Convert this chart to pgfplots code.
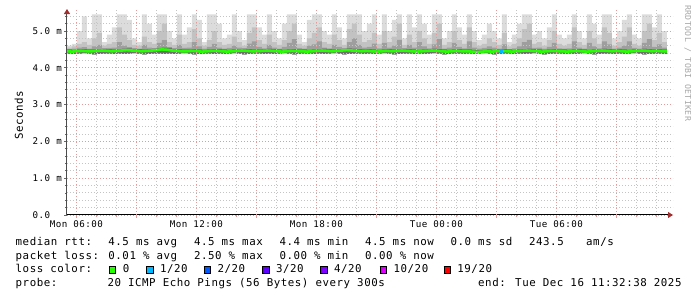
\documentclass[border=0pt]{standalone}
\usepackage{fontspec}
\usepackage{pgfplots}
\pgfplotsset{compat=1.18}
\usepackage{pgfplotstable}
\usetikzlibrary{arrows.meta}
\newfontfamily\mono[LetterSpace=5]{DejaVu Sans Mono}
\definecolor{gridc}{HTML}{C4C4C4}
\definecolor{mgridc}{HTML}{DE9C9C}
\definecolor{arrowred}{HTML}{A03030}
\definecolor{smA}{HTML}{DCDCDC}
\definecolor{smB}{HTML}{C2C2C2}
\definecolor{smC}{HTML}{9E9E9E}
\definecolor{smD}{HTML}{6E6E6E}
\definecolor{l0}{HTML}{26FF00}
\definecolor{l1}{HTML}{00B8FF}
\definecolor{l2}{HTML}{0059FF}
\definecolor{l3}{HTML}{5E00FF}
\definecolor{l4}{HTML}{7E00FF}
\definecolor{l10}{HTML}{DD00FF}
\definecolor{l19}{HTML}{FF0000}
\newcommand{\sw}[1]{{\setlength{\fboxsep}{0pt}\setlength{\fboxrule}{0.9pt}\fcolorbox{black}{#1}{\rule{0pt}{5.6pt}\rule{5.6pt}{0pt}}}}
\newcommand{\lf}{\mono\fontsize{10.8}{12}\selectfont}
\newcommand{\tf}{\mono\fontsize{9.2}{10}\selectfont}

\pgfplotstableread{
x lo dk md lt med
5.53 4.38 4.50 4.55 4.60 4.45
5.78 4.37 4.52 4.58 4.65 4.44
6.03 4.38 4.55 4.65 5.00 4.45
6.28 4.39 4.56 4.70 5.40 4.46
6.53 4.38 4.52 4.62 4.80 4.45
6.78 4.36 4.58 4.80 5.45 4.45
7.03 4.37 4.62 4.95 5.45 4.46
7.28 4.38 4.52 4.60 4.70 4.47
7.53 4.38 4.54 4.65 4.90 4.46
7.78 4.37 4.55 4.70 5.10 4.45
8.03 4.38 4.70 5.10 5.45 4.46
8.28 4.37 4.60 4.90 5.45 4.47
8.53 4.38 4.56 4.75 5.30 4.48
8.78 4.39 4.52 4.62 4.80 4.47
9.03 4.38 4.52 4.60 4.70 4.46
9.28 4.36 4.62 4.85 5.45 4.45
9.53 4.37 4.55 4.70 5.20 4.46
9.78 4.38 4.53 4.65 4.90 4.47
10.03 4.38 4.68 5.00 5.45 4.48
10.28 4.37 4.75 5.20 5.45 4.50
10.53 4.38 4.56 4.70 5.00 4.49
10.78 4.37 4.52 4.62 4.80 4.47
11.03 4.38 4.62 4.90 5.45 4.46
11.28 4.39 4.54 4.65 4.90 4.45
11.53 4.38 4.55 4.70 5.10 4.45
11.78 4.36 4.70 5.05 5.45 4.46
12.03 4.37 4.58 4.80 5.30 4.45
12.28 4.38 4.52 4.60 4.70 4.44
12.53 4.38 4.57 4.75 5.45 4.45
12.78 4.37 4.65 5.00 5.45 4.46
13.03 4.38 4.55 4.70 5.20 4.46
13.28 4.37 4.52 4.62 4.80 4.45
13.53 4.38 4.54 4.65 4.90 4.44
13.78 4.39 4.60 4.85 5.45 4.45
14.03 4.38 4.55 4.70 5.00 4.46
14.28 4.36 4.52 4.60 4.75 4.47
14.53 4.37 4.66 4.95 5.45 4.46
14.78 4.38 4.72 5.10 5.45 4.45
15.03 4.38 4.57 4.75 5.10 4.45
15.28 4.37 4.53 4.65 4.90 4.46
15.53 4.38 4.62 4.90 5.45 4.47
15.78 4.37 4.55 4.70 5.00 4.46
16.03 4.38 4.52 4.62 4.80 4.45
16.28 4.39 4.57 4.75 5.20 4.44
16.53 4.38 4.68 5.00 5.45 4.45
16.78 4.36 4.78 5.20 5.45 4.46
17.03 4.37 4.54 4.65 4.90 4.45
17.28 4.38 4.52 4.60 4.70 4.45
17.53 4.38 4.60 4.80 5.30 4.44
17.78 4.37 4.64 4.95 5.45 4.45
18.03 4.38 4.72 5.10 5.45 4.46
18.28 4.37 4.55 4.70 5.00 4.47
18.53 4.38 4.53 4.65 4.90 4.46
18.78 4.39 4.62 4.90 5.45 4.45
19.03 4.38 4.57 4.75 5.10 4.46
19.28 4.36 4.52 4.62 4.80 4.47
19.53 4.37 4.70 5.05 5.45 4.48
19.78 4.38 4.80 5.20 5.45 4.47
20.03 4.38 4.62 4.90 5.45 4.46
20.28 4.37 4.55 4.70 5.00 4.45
20.53 4.38 4.57 4.75 5.20 4.46
20.78 4.37 4.66 4.95 5.45 4.45
21.03 4.38 4.53 4.65 4.90 4.44
21.28 4.39 4.68 5.00 5.45 4.45
21.53 4.38 4.55 4.70 5.00 4.46
21.78 4.36 4.60 4.85 5.30 4.45
22.03 4.37 4.76 5.20 5.45 4.46
22.28 4.38 4.52 4.62 4.80 4.47
22.53 4.38 4.62 4.90 5.45 4.46
22.78 4.37 4.55 4.70 5.10 4.45
23.03 4.38 4.70 5.00 5.45 4.44
23.28 4.37 4.58 4.80 5.20 4.45
23.53 4.38 4.53 4.65 4.90 4.46
23.78 4.39 4.64 4.95 5.45 4.47
24.03 4.38 4.78 5.20 5.45 4.46
24.28 4.36 4.52 4.62 4.80 4.45
24.53 4.37 4.55 4.70 5.00 4.44
24.78 4.38 4.68 5.00 5.45 4.45
25.03 4.38 4.57 4.75 5.10 4.46
25.28 4.37 4.53 4.65 4.90 4.45
25.53 4.38 4.72 5.10 5.45 4.45
25.78 4.37 4.55 4.70 5.00 4.44
26.03 4.38 4.52 4.60 4.75 4.43
26.28 4.39 4.54 4.65 4.90 4.44
26.53 4.38 4.58 4.80 5.20 4.45
26.78 4.36 4.55 4.70 5.00 4.44
27.03 4.37 4.52 4.62 4.80 4.45
27.28 4.38 4.64 4.95 5.45 4.46
27.53 4.38 4.50 4.58 4.70 4.45
27.78 4.37 4.53 4.65 4.90 4.44
28.03 4.38 4.58 4.80 5.20 4.45
28.28 4.37 4.70 5.05 5.45 4.46
28.53 4.38 4.76 5.20 5.45 4.47
28.78 4.39 4.54 4.65 4.90 4.46
29.03 4.38 4.55 4.70 5.00 4.45
29.28 4.36 4.52 4.60 4.80 4.44
29.53 4.37 4.57 4.75 5.10 4.45
29.78 4.38 4.68 5.00 5.45 4.46
30.03 4.38 4.53 4.65 4.90 4.45
30.28 4.37 4.52 4.60 4.80 4.45
30.53 4.38 4.53 4.65 4.90 4.44
30.78 4.37 4.72 5.10 5.45 4.45
31.03 4.38 4.55 4.70 5.00 4.46
31.28 4.39 4.52 4.62 4.80 4.45
31.53 4.38 4.68 5.00 5.45 4.44
31.78 4.36 4.58 4.80 5.20 4.45
32.03 4.37 4.53 4.65 4.90 4.46
32.28 4.38 4.72 5.10 5.45 4.47
32.53 4.38 4.64 4.95 5.45 4.46
32.78 4.37 4.52 4.60 4.80 4.45
33.03 4.38 4.55 4.70 5.00 4.46
33.28 4.37 4.60 4.85 5.30 4.45
33.53 4.38 4.72 5.10 5.45 4.44
33.78 4.39 4.54 4.65 4.90 4.45
34.03 4.38 4.52 4.60 4.80 4.46
34.28 4.36 4.68 5.00 5.45 4.47
34.53 4.37 4.78 5.20 5.45 4.46
34.78 4.38 4.57 4.75 5.10 4.45
35.03 4.38 4.64 4.95 5.45 4.46
35.28 4.37 4.55 4.70 5.00 4.45
35.53 4.38 4.53 4.65 4.90 4.45
}\smoke

\begin{document}
\begin{tikzpicture}
\path[use as bounding box] (0pt,0pt) rectangle (697pt,297pt);
\begin{axis}[
  at={(67pt,82pt)}, anchor=south west,
  scale only axis, width=606pt, height=206pt,
  xmin=5.533, xmax=35.833, ymin=0, ymax=5.598,
  axis on top,
  axis x line=bottom, axis y line=left,
  x axis line style={black, line width=1pt, -{Triangle[length=5pt,width=6pt,color=arrowred]}},
  y axis line style={black!70, line width=1pt, -{Triangle[length=5pt,width=6pt,color=arrowred]}},
  xtick={6,12,18,24,30},
  xticklabels={\mbox{Mon 06:00},\mbox{Mon 12:00},\mbox{Mon 18:00},\mbox{Tue 00:00},\mbox{Tue 06:00}},
  extra x ticks={9,15,21,27,33},
  extra x tick labels={},
  extra x tick style={grid=major},
  minor xtick={7,8,10,11,13,14,16,17,19,20,22,23,25,26,28,29,31,32,34,35},
  ytick={0,1,2,3,4,5},
  yticklabels={\mbox{0.0\phantom{ m}},\mbox{1.0 m},\mbox{2.0 m},\mbox{3.0 m},\mbox{4.0 m},\mbox{5.0 m}},
  minor ytick={0.2,0.4,0.6,0.8,1.2,1.4,1.6,1.8,2.2,2.4,2.6,2.8,3.2,3.4,3.6,3.8,4.2,4.4,4.6,4.8,5.2,5.4},
  grid=both,
  major grid style={mgridc, line width=0.9pt, dash pattern=on 1pt off 2pt},
  minor grid style={gridc, line width=0.9pt, dash pattern=on 1pt off 2pt},
  tick align=outside,
  major tick length=3pt, minor tick length=2pt,
  x tick style={mgridc, line width=0.8pt},
  y tick style={black!60, line width=0.8pt},
  xticklabel style={font=\tf, inner sep=0pt, anchor=north, yshift=-2pt},
  yticklabel style={font=\tf, inner sep=0pt, anchor=east, xshift=-2pt},
  clip=true,
]
\addplot[const plot, fill=smA, draw=none] table[x=x, y=lt] {\smoke} \closedcycle;
\addplot[const plot, fill=smB, draw=none] table[x=x, y=md] {\smoke} \closedcycle;
\addplot[const plot, fill=smC, draw=none] table[x=x, y=dk] {\smoke} \closedcycle;
\addplot[const plot, fill=smD, draw=none] table[x=x, y expr=\thisrow{med}+0.05] {\smoke} \closedcycle;
\addplot[const plot, fill=white, draw=none] table[x=x, y=lo] {\smoke} \closedcycle;
\addplot[l0, line width=2.6pt] table[x=x, y=med] {\smoke};
\addplot[l1, line width=2.6pt] coordinates {(27.20,4.45) (27.35,4.45)};
\end{axis}
\begin{scope}[x=1pt,y=1pt]
\node[rotate=90, anchor=base, inner sep=0pt, font=\lf] at (23,182) {Seconds};
\node[rotate=-90, anchor=base west, inner sep=0pt, font=\mono\fontsize{8.2}{9}\selectfont, text=black!35] at (685,292) {RRDTOOL / TOBI OETIKER};
\end{scope}
\begin{scope}[x=1pt,y=1pt,every node/.style={anchor=base west, inner sep=0pt, font=\lf}]
\node at (15.5,51.5) {median rtt:};
\node at (108.2,51.5) {4.5 ms avg};
\node at (193.8,51.5) {4.5 ms max};
\node at (279.3,51.5) {4.4 ms min};
\node at (364.9,51.5) {4.5 ms now};
\node at (450.4,51.5) {0.0 ms sd};
\node at (528.9,51.5) {243.5};
\node at (586.0,51.5) {am/s};
\node at (15.5,37.8) {packet loss:};
\node at (108.2,37.8) {0.01 \% avg};
\node at (193.8,37.8) {2.50 \% max};
\node at (279.3,37.8) {0.00 \% min};
\node at (364.9,37.8) {0.00 \% now};
\node at (15.5,24.2) {loss color:};
\node at (108.7,24.2) {\sw{l0}\hspace{6.5pt}0};
\node at (146.0,24.2) {\sw{l1}\hspace{6.5pt}1/20};
\node at (203.5,24.2) {\sw{l2}\hspace{6.5pt}2/20};
\node at (262.0,24.2) {\sw{l3}\hspace{6.5pt}3/20};
\node at (320.0,24.2) {\sw{l4}\hspace{6.5pt}4/20};
\node at (379.5,24.2) {\sw{l10}\hspace{6.5pt}10/20};
\node at (443.3,24.2) {\sw{l19}\hspace{6.5pt}19/20};
\node at (15.5,10.5) {probe:};
\node at (107.3,10.5) {20 ICMP Echo Pings (56 Bytes) every 300s};
\node at (478.0,10.5) {end: Tue Dec 16 11:32:38 2025};
\end{scope}
\end{tikzpicture}
\end{document}
